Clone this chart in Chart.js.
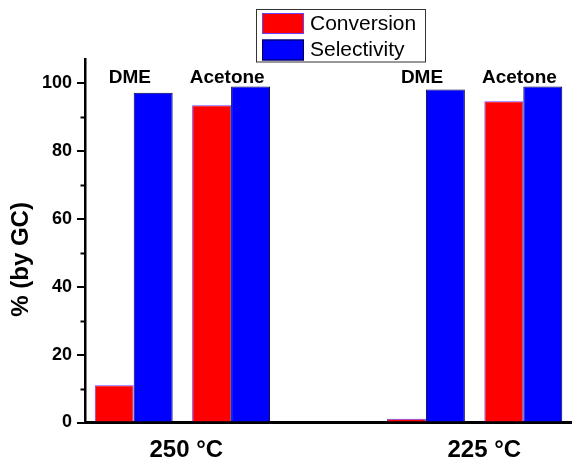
<!DOCTYPE html>
<html>
<head>
<meta charset="utf-8">
<script src="https://cdn.jsdelivr.net/npm/chart.js@4/dist/chart.umd.min.js"></script>
<style>
html,body{margin:0;padding:0;background:#fff;}
#wrap{width:572px;height:460px;position:relative;}
</style>
</head>
<body>
<div id="wrap"><canvas id="c" width="572" height="460"></canvas></div>
<script>
const categories = ['DME', 'Acetone', '', 'DME', 'Acetone'];
const conversion = [11, 93.4, null, 1.1, 94.6];
const selectivity = [97.1, 98.9, null, 98.0, 98.9];
const groupLabels = ['250 °C', '225 °C'];
const groupCenters = [0.54, 3.6];
const yTitle = '% (by GC)';
const minorTicks = [10, 30, 50, 70, 90];
const FONT = '"Liberation Sans", Arial, sans-serif';

const extras = {
  id: 'extras',
  afterDraw(chart) {
    const ctx = chart.ctx;
    const xs = chart.scales.x, ys = chart.scales.y;
    ctx.save();
    // minor ticks
    ctx.strokeStyle = '#000';
    ctx.lineWidth = 2;
    minorTicks.forEach(v => {
      const y = Math.round(ys.getPixelForValue(v)) + 0.5;
      ctx.beginPath();
      ctx.moveTo(xs.left - 4.5, y);
      ctx.lineTo(xs.left, y);
      ctx.stroke();
    });
    // category labels above bars
    ctx.fillStyle = '#000';
    ctx.font = 'bold 19px ' + FONT;
    ctx.textAlign = 'center';
    ctx.textBaseline = 'middle';
    categories.forEach((c, i) => {
      if (!c) return;
      ctx.fillText(c, xs.getPixelForValue(i - 0.04), ys.getPixelForValue(101.5));
    });
    // group labels below axis
    ctx.font = 'bold 24px ' + FONT;
    groupLabels.forEach((g, i) => {
      ctx.fillText(g, xs.getPixelForValue(groupCenters[i]), ys.bottom + 28);
    });
    // y title
    ctx.save();
    ctx.translate(21, ys.getPixelForValue(48));
    ctx.rotate(-Math.PI / 2);
    ctx.font = 'bold 24px ' + FONT;
    ctx.fillText(yTitle, 0, 0);
    ctx.restore();
    // legend
    const lx = 256.5, ly = 9.5, lw = 169, lh = 52.5;
    ctx.lineWidth = 1;
    ctx.strokeStyle = '#333';
    ctx.strokeRect(lx, ly, lw, lh);
    chart.data.datasets.forEach((ds, i) => {
      const sy = 13 + i * 26.5;
      ctx.fillStyle = ds.backgroundColor;
      ctx.fillRect(262, sy, 42, 21);
      ctx.strokeStyle = ds.borderColor;
      ctx.lineWidth = 1;
      ctx.strokeRect(262.5, sy + 0.5, 41, 20);
      ctx.fillStyle = '#000';
      ctx.font = '21px ' + FONT;
      ctx.textAlign = 'left';
      ctx.textBaseline = 'middle';
      ctx.fillText(ds.label, 310, sy + 11);
    });
    ctx.restore();
  }
};

new Chart(document.getElementById('c'), {
  type: 'bar',
  data: {
    labels: categories,
    datasets: [
      { label: 'Conversion', data: conversion, backgroundColor: '#ff0000', borderColor: '#6a40ff', borderWidth: 1, categoryPercentage: 0.8, barPercentage: 1.0 },
      { label: 'Selectivity', data: selectivity, backgroundColor: '#0000ff', borderColor: '#000040', borderWidth: 1, categoryPercentage: 0.8, barPercentage: 1.0 }
    ]
  },
  options: {
    responsive: false,
    animation: false,
    devicePixelRatio: 1,
    layout: { padding: { top: 59, right: -3, left: 0, bottom: 0 } },
    plugins: { legend: { display: false }, tooltip: { enabled: false } },
    scales: {
      x: {
        type: 'category',
        ticks: { display: false },
        grid: { display: false, drawTicks: false },
        border: { display: true, color: '#000', width: 3 },
        afterFit(s) { s.height = 37.5; }
      },
      y: {
        min: 0, max: 107,
        ticks: { stepSize: 20, includeBounds: false, color: '#000', font: { family: FONT, size: 18, weight: 'bold' }, padding: 5 },
        grid: { drawOnChartArea: false, drawTicks: true, tickLength: 8, color: '#000', lineWidth: 2 },
        border: { display: true, color: '#000', width: 2.5 },
        afterFit(s) { s.width = 85; }
      }
    }
  },
  plugins: [extras]
});
</script>
</body>
</html>
